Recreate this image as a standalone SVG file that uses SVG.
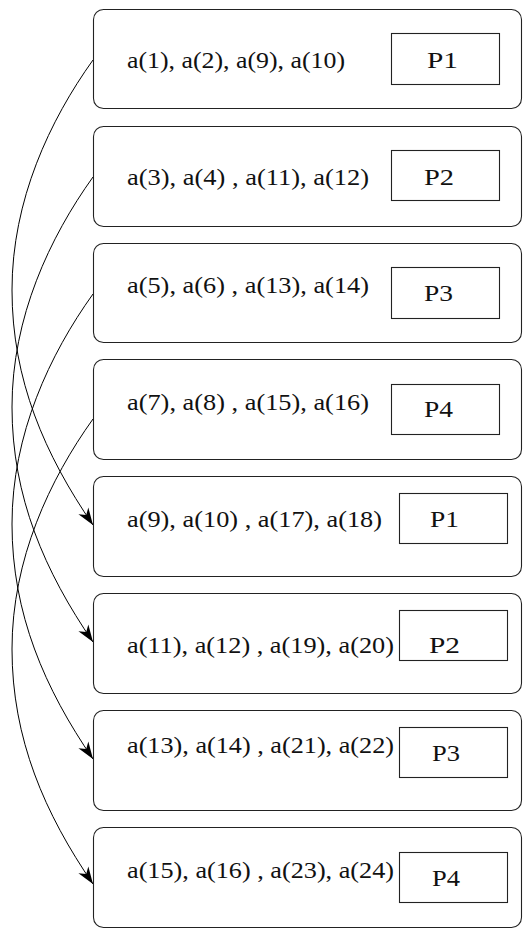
<svg xmlns="http://www.w3.org/2000/svg" width="528" height="930" viewBox="0 0 528 930">
<style>
.box{fill:none;stroke:#222;stroke-width:1.1}
.pbox{fill:none;stroke:#222;stroke-width:1.1}
.t{font-family:"Liberation Serif","Times New Roman",serif;font-size:22.5px;font-weight:normal;fill:#111}
.c{fill:none;stroke:#000;stroke-width:1}
</style>
<defs>
<marker id="ah" markerUnits="userSpaceOnUse" markerWidth="22" markerHeight="16" refX="0" refY="0" viewBox="-19 -8 22 16" orient="auto">
<path d="M0,0 L-17,-6 L-12,0 L-17,6 Z" fill="#000"/>
</marker>
</defs>
<rect width="528" height="930" fill="#fff"/>
<g id="connectors">
<path class="c" marker-end="url(#ah)" d="M93,60 C50,120 12,200 12,290 C12,380 45,455 93,525"/>
<path class="c" marker-end="url(#ah)" d="M93,177 C50,237 12,317 12,407 C12,497 45,572 93,642"/>
<path class="c" marker-end="url(#ah)" d="M93,294 C50,354 12,434 12,524 C12,614 45,689 93,759"/>
<path class="c" marker-end="url(#ah)" d="M93,419 C50,479 12,559 12,649 C12,739 45,814 93,884"/>
</g>
<g id="n1"><rect class="box" x="93.5" y="9.5" width="428" height="99" rx="10"/><text class="t" x="127" y="68" textLength="218" lengthAdjust="spacingAndGlyphs">a(1), a(2), a(9), a(10)</text><rect class="pbox" x="391.5" y="33.5" width="108" height="51"/><text class="t" x="427" y="68" textLength="31" lengthAdjust="spacingAndGlyphs">P1</text></g>
<g id="n2"><rect class="box" x="93.5" y="126.5" width="428" height="100" rx="10"/><text class="t" x="127" y="185" textLength="242" lengthAdjust="spacingAndGlyphs">a(3), a(4) , a(11), a(12)</text><rect class="pbox" x="391.5" y="150.5" width="108" height="50"/><text class="t" x="424" y="185" textLength="30" lengthAdjust="spacingAndGlyphs">P2</text></g>
<g id="n3"><rect class="box" x="93.5" y="243.5" width="428" height="99" rx="10"/><text class="t" x="127" y="293" textLength="242" lengthAdjust="spacingAndGlyphs">a(5), a(6) , a(13), a(14)</text><rect class="pbox" x="391.5" y="267.5" width="108" height="51"/><text class="t" x="424" y="301" textLength="29" lengthAdjust="spacingAndGlyphs">P3</text></g>
<g id="n4"><rect class="box" x="93.5" y="359.5" width="428" height="100" rx="10"/><text class="t" x="127" y="410" textLength="242" lengthAdjust="spacingAndGlyphs">a(7), a(8) , a(15), a(16)</text><rect class="pbox" x="391.5" y="384.5" width="108" height="50"/><text class="t" x="424" y="417" textLength="29" lengthAdjust="spacingAndGlyphs">P4</text></g>
<g id="n5"><rect class="box" x="93.5" y="476.5" width="428" height="100" rx="10"/><text class="t" x="127" y="527" textLength="255" lengthAdjust="spacingAndGlyphs">a(9), a(10) , a(17), a(18)</text><rect class="pbox" x="399.5" y="493.5" width="108" height="50"/><text class="t" x="430" y="527" textLength="29" lengthAdjust="spacingAndGlyphs">P1</text></g>
<g id="n6"><rect class="box" x="93.5" y="593.5" width="428" height="100" rx="10"/><text class="t" x="127" y="653" textLength="267" lengthAdjust="spacingAndGlyphs">a(11), a(12) , a(19), a(20)</text><rect class="pbox" x="399.5" y="610.5" width="108" height="50"/><text class="t" x="429" y="653" textLength="31" lengthAdjust="spacingAndGlyphs">P2</text></g>
<g id="n7"><rect class="box" x="93.5" y="710.5" width="428" height="100" rx="10"/><text class="t" x="127" y="753" textLength="267" lengthAdjust="spacingAndGlyphs">a(13), a(14) , a(21), a(22)</text><rect class="pbox" x="399.5" y="727.5" width="108" height="50"/><text class="t" x="432" y="761" textLength="28" lengthAdjust="spacingAndGlyphs">P3</text></g>
<g id="n8"><rect class="box" x="93.5" y="827.5" width="428" height="100" rx="10"/><text class="t" x="127" y="878" textLength="267" lengthAdjust="spacingAndGlyphs">a(15), a(16) , a(23), a(24)</text><rect class="pbox" x="399.5" y="852.5" width="108" height="50"/><text class="t" x="432" y="886" textLength="28" lengthAdjust="spacingAndGlyphs">P4</text></g>
</svg>
